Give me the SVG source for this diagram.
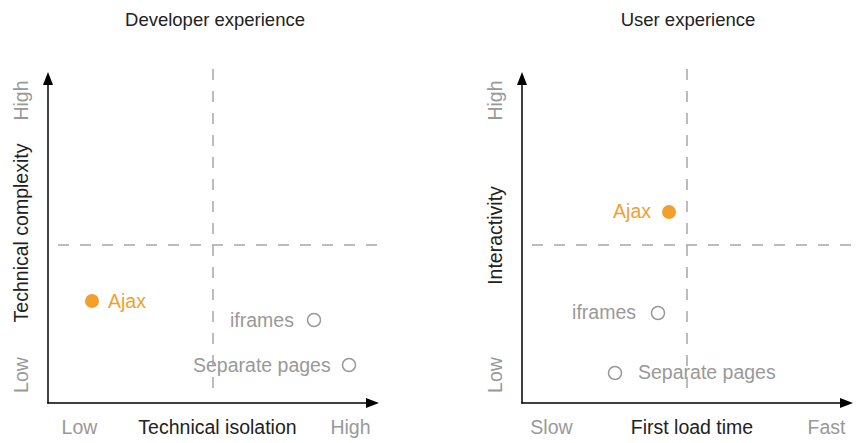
<svg xmlns="http://www.w3.org/2000/svg" width="861" height="443" viewBox="0 0 861 443">
<style>
text{font-family:"Liberation Sans",Arial,sans-serif;font-size:19.5px}
.title{font-size:18.5px}
.dark{fill:#222}
.gray{fill:#999}
.orange{fill:#f29f2e}
.axis{stroke:#000;stroke-width:1.5;fill:none}
.dash{stroke:#a6a6a6;stroke-width:1.5;stroke-dasharray:11 11;fill:none}
.open{fill:#fff;stroke:#999;stroke-width:1.5}
.filled{fill:#f29f2e}
.mid{text-anchor:middle}
.end{text-anchor:end}
</style>
<defs>
<marker id="arrow" viewBox="0 0 13 10" refX="10" refY="5" markerWidth="13" markerHeight="10" markerUnits="userSpaceOnUse" orient="auto">
<path d="M0,0 L13,5 L0,10 z" fill="#000"/>
</marker>
</defs>

<g id="titles">
<text class="dark mid title" x="215" y="26">Developer experience</text>
<text class="dark mid title" x="688" y="26">User experience</text>
</g>

<g id="connectors">
<!-- left chart -->
<line class="dash" x1="213" y1="69" x2="213" y2="393"/>
<line class="dash" x1="58" y1="245" x2="382" y2="245"/>
<line class="axis" x1="48" y1="403.5" x2="48" y2="75" marker-end="url(#arrow)"/>
<line class="axis" x1="47.25" y1="403" x2="376" y2="403" marker-end="url(#arrow)"/>
<!-- right chart -->
<line class="dash" x1="687" y1="69" x2="687" y2="393"/>
<line class="dash" x1="532" y1="245" x2="861" y2="245"/>
<line class="axis" x1="522" y1="403.5" x2="522" y2="75" marker-end="url(#arrow)"/>
<line class="axis" x1="521.25" y1="403" x2="850" y2="403" marker-end="url(#arrow)"/>
</g>

<g id="left-axis-labels">
<text class="gray mid" x="79.5" y="434">Low</text>
<text class="dark mid" x="217.5" y="434">Technical isolation</text>
<text class="gray mid" x="350.5" y="434">High</text>
<text class="gray mid" transform="translate(27.5,100.5) rotate(-90)">High</text>
<text class="dark mid" transform="translate(27.5,233) rotate(-90)">Technical complexity</text>
<text class="gray mid" transform="translate(27.5,375) rotate(-90)">Low</text>
</g>

<g id="right-axis-labels">
<text class="gray mid" x="551.5" y="434">Slow</text>
<text class="dark mid" x="692" y="434">First load time</text>
<text class="gray mid" x="826.5" y="434">Fast</text>
<text class="gray mid" transform="translate(501.5,100.5) rotate(-90)">High</text>
<text class="dark mid" transform="translate(501.5,235.5) rotate(-90)">Interactivity</text>
<text class="gray mid" transform="translate(501.5,375) rotate(-90)">Low</text>
</g>

<g id="dev-ajax">
<circle class="filled" cx="92" cy="301" r="7"/>
<text class="orange" x="108" y="307.5">Ajax</text>
</g>
<g id="dev-iframes">
<circle class="open" cx="314" cy="320" r="6.5"/>
<text class="gray" x="230" y="326.5">iframes</text>
</g>
<g id="dev-separate-pages">
<circle class="open" cx="349" cy="365" r="6.5"/>
<text class="gray" x="193" y="371.5">Separate pages</text>
</g>

<g id="user-ajax">
<circle class="filled" cx="669" cy="212" r="7"/>
<text class="orange end" x="651" y="218">Ajax</text>
</g>
<g id="user-iframes">
<circle class="open" cx="658" cy="313" r="6.5"/>
<text class="gray end" x="636" y="318.5">iframes</text>
</g>
<g id="user-separate-pages">
<circle class="open" cx="615" cy="373" r="6.5"/>
<text class="gray" x="638" y="378.5">Separate pages</text>
</g>
</svg>
